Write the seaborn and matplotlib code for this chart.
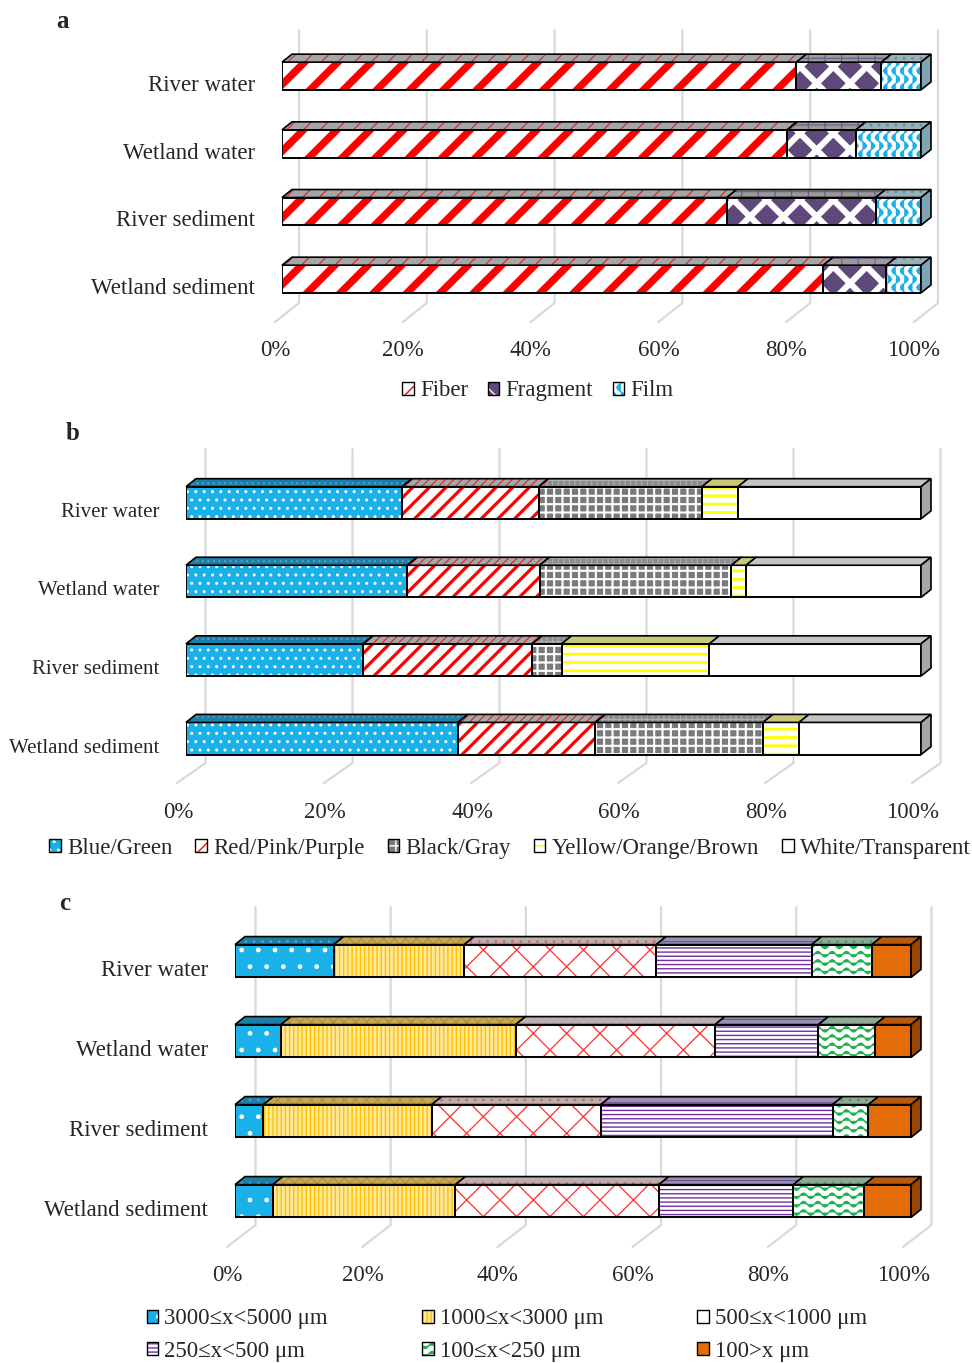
import warnings
import numpy as np
import pandas as pd
import seaborn as sns
import matplotlib.pyplot as plt
import matplotlib.transforms as mtransforms
from matplotlib import hatch as mhatch
from matplotlib.path import Path
from matplotlib.patches import Patch, Polygon
from matplotlib.legend_handler import HandlerTuple

warnings.filterwarnings("ignore")

# ---------------- data (percent) ----------------
sites = ["River water", "Wetland water", "River sediment", "Wetland sediment"]

shape_names = ["Fiber", "Fragment", "Film"]
fiber = [80.5, 79.1, 69.6, 84.7]
fragment = [13.3, 10.7, 23.3, 9.9]
film = [6.2, 10.2, 7.1, 5.4]

color_names = ["Blue/Green", "Red/Pink/Purple", "Black/Gray",
               "Yellow/Orange/Brown", "White/Transparent"]
blue_green = [29.4, 30.1, 24.1, 37.0]
red_pink = [18.6, 18.0, 23.0, 18.7]
black_gray = [22.2, 26.1, 4.0, 22.8]
yellow_brown = [4.9, 2.0, 20.1, 4.9]
white_transp = [24.9, 23.8, 28.8, 16.6]

size_names = ["3000\u2264x<5000 \u03bcm", "1000\u2264x<3000 \u03bcm", "500\u2264x<1000 \u03bcm",
              "250\u2264x<500 \u03bcm", "100\u2264x<250 \u03bcm", "100>x \u03bcm"]
s3000 = [14.6, 6.8, 4.2, 5.6]
s1000 = [19.3, 34.7, 24.9, 27.0]
s500 = [28.4, 29.5, 25.0, 30.1]
s250 = [23.0, 15.3, 34.3, 19.9]
s100 = [8.9, 8.4, 5.3, 10.5]
s0 = [5.8, 5.3, 6.3, 6.9]

pct_ticks = [0, 20, 40, 60, 80, 100]
pct_labels = ["0%", "20%", "40%", "60%", "80%", "100%"]


# wavy hatch patterns ('~' horizontal waves, 'z' vertical waves)
class WaveHatch(mhatch.HatchPatternBase):
    char, vertical, periods, amp = "~", False, 7, 0.028

    def __init__(self, hatch, density):
        self.num_lines = int(hatch.count(self.char) * density)
        self.npts = self.periods * 8 + 1
        self.num_vertices = self.num_lines * self.npts

    def set_vertices_and_codes(self, vertices, codes):
        steps, stepsize = np.linspace(0.0, 1.0, self.num_lines, False, retstep=True)
        steps += stepsize / 2.0
        t = np.linspace(0.0, 1.0, self.npts)
        wave = self.amp * np.sin(2 * np.pi * self.periods * t)
        a, b = (1, 0) if self.vertical else (0, 1)
        for k, s in enumerate(steps):
            sl = slice(k * self.npts, (k + 1) * self.npts)
            vertices[sl, a] = t
            vertices[sl, b] = s + wave
            codes[sl] = Path.LINETO
            codes[k * self.npts] = Path.MOVETO


class VWaveHatch(WaveHatch):
    char, vertical, periods, amp = "z", True, 6, 0.04


mhatch._hatch_types.extend([WaveHatch, VWaveHatch])

# ---------------- styles ----------------
# front: face, hatch, hatch colour, hatch lw ; top: face, hatch, hatch colour
style_a = [("white", "/", "#ff0000", 5.3, "#a6a6a6", "//", "#e02020"),
           ("#5f497a", "x", "white", 4.4, "#9a9a9a", "+", "#6a5a8a"),
           ("white", "zz", "#1ab0e8", 1.0, "#9ab0b8", "..", "#5a8fa8")]
side_a = "#7fa4b4"
style_b = [("#1ab0e8", "..", "white", 1.0, "#1b7fa8", "...", "#5aa0c0"),
           ("white", "//", "#ff0000", 2.3, "#a6a6a6", "////", "#e02020"),
           ("#7a7a7a", "++", "white", 1.5, "#8c8c8c", "+++", "#b0b0b0"),
           ("white", "--", "#ffff00", 2.0, "#c8c878", "", "#c8c878"),
           ("white", "", "white", 1.0, "#c4c4c4", "", "#c4c4c4")]
side_b = "#a6a6a6"
style_c = [("#1ab0e8", ".", "white", 1.0, "#1b7fa8", "..", "#5aa0c0"),
           ("#ffe89a", "||||", "#ffc000", 1.0, "#c8a850", "xxx", "#b09040"),
           ("white", "x", "#ff4040", 1.0, "#b8b0b0", "..", "#e06060"),
           ("white", "----", "#7030a0", 1.0, "#9a90b0", "---", "#7050a0"),
           ("white", "~~", "#20b050", 1.0, "#90a898", "..", "#40a060"),
           ("#e36c09", "", "#e36c09", 1.0, "#b85a0a", "", "#b85a0a")]
side_c = "#9c4500"

sns.set_style("white")
plt.rcParams["font.family"] = ["Liberation Serif", "DejaVu Serif"]

W, H = 972, 1363
fig = plt.figure(figsize=(W / 100, H / 100), dpi=100)

DEPTH = (10, 8)
BAR_H = 0.41


def px_axes(x0, x1, ytop, ybot):
    return fig.add_axes([x0 / W, 1 - ybot / H, (x1 - x0) / W, (ybot - ytop) / H])


def to_disp(ypx):
    return H - ypx


def panel(ax, series, styles, side_color, fs_cat, grid, tick_pad, tick_shift):
    vals = np.array(series)  # (n_series, n_sites)
    cum = np.cumsum(vals, axis=0)
    starts = cum - vals
    # seaborn stacked bars: largest cumulative first
    for i in range(len(series) - 1, -1, -1):
        face, hatch, hcol, hlw = styles[i][:4]
        df = pd.DataFrame({"site": sites, "value": cum[i]})
        with plt.rc_context({"hatch.linewidth": hlw}):
            sns.barplot(data=df, x="value", y="site", order=sites, orient="h",
                        color=face, saturation=1, hatch=hatch, edgecolor=hcol,
                        linewidth=0, width=BAR_H, ax=ax, zorder=2)
    ax.set_xlim(0, 100)
    ax.set_ylim(3.5, -0.5)
    ypos = np.arange(len(sites))
    # segment outlines
    for i in range(len(series)):
        ax.barh(ypos, vals[i], left=starts[i], height=BAR_H, fill=False,
                edgecolor="black", linewidth=1.4, zorder=4)

    # 3D top faces and end face
    dx, dy = DEPTH
    T = ax.transData
    ident = mtransforms.IdentityTransform()
    for i in range(len(series)):
        tface, thatch, thcol = styles[i][4:]
        for j in range(len(sites)):
            l = T.transform((starts[i][j], j - BAR_H / 2))
            r = T.transform((cum[i][j], j - BAR_H / 2))
            poly = [l, r, r + [dx, dy], l + [dx, dy]]
            with plt.rc_context({"hatch.linewidth": 0.8}):
                ax.add_patch(Polygon(poly, closed=True, facecolor=tface, hatch=thatch,
                                     edgecolor=thcol, linewidth=0, transform=ident,
                                     clip_on=False, zorder=4))
            ax.add_patch(Polygon(poly, closed=True, fill=False, edgecolor="black",
                                 linewidth=1.2, transform=ident, clip_on=False, zorder=4))
    for j in range(len(sites)):
        rt = T.transform((cum[-1][j], j - BAR_H / 2))
        rb = T.transform((cum[-1][j], j + BAR_H / 2))
        poly = [rt, rt + [dx, dy], rb + [dx, dy], rb]
        ax.add_patch(Polygon(poly, closed=True, facecolor=side_color, edgecolor="black",
                             linewidth=1.2, transform=ident, clip_on=False, zorder=4))

    # back-wall gridlines with floor slant
    gback, gtop, gbend, gfront, gbot = grid
    for t in pct_ticks:
        xp = T.transform((t, 0))[0]
        ax.add_line(plt.Line2D([xp + gback, xp + gback, xp - gfront],
                               [to_disp(gtop), to_disp(gbend), to_disp(gbot)],
                               color="#d9d9d9", linewidth=1.6, transform=ident,
                               clip_on=False, zorder=0.5))

    for s in ax.spines.values():
        s.set_visible(False)
    ax.patch.set_visible(False)
    ax.set_xlabel("")
    ax.set_ylabel("")
    ax.set_xticks(pct_ticks, pct_labels)
    ax.set_yticks(ypos, sites)
    ax.tick_params(axis="x", length=0, pad=tick_pad, labelsize=16.5)
    ax.tick_params(axis="y", length=0, pad=19.4, labelsize=fs_cat)
    for lab in ax.get_xticklabels():
        lab.set_transform(lab.get_transform() + mtransforms.Affine2D().translate(-tick_shift, 0))
    for lab in ax.get_yticklabels():
        lab.set_transform(lab.get_transform() + mtransforms.Affine2D().translate(0, -7))


def handles_for(styles):
    hs = []
    for st in styles:
        face, hatch, hcol, hlw = st[:4]
        with plt.rc_context({"hatch.linewidth": min(hlw, 1.5)}):
            p = Patch(facecolor=face, hatch=hatch, edgecolor=hcol, linewidth=0)
        hs.append((p, Patch(fill=False, edgecolor="black", linewidth=1.0)))
    return hs


leg_kw = dict(frameon=False, fontsize=16.5, handlelength=0.5, handleheight=0.5,
              handletextpad=0.28, handler_map={tuple: HandlerTuple(ndivide=1)},
              borderaxespad=0, borderpad=0)

# ---------------- panel a ----------------
ax_a = px_axes(282, 921, 42.2, 312.9)
panel(ax_a, [fiber, fragment, film], style_a, side_a, 16.5,
      (17, 30, 303, 7, 322), 19.2, 7)
fig.legend(handles_for(style_a), shape_names, loc="center", ncol=3,
           bbox_to_anchor=(538 / W, 1 - 391 / H), columnspacing=0.85, **leg_kw)

# ---------------- panel b ----------------
ax_b = px_axes(186, 921, 463.5, 777.8)
panel(ax_b, [blue_green, red_pink, black_gray, yellow_brown, white_transp],
      style_b, side_b, 15, (19.5, 449, 763, 9, 783), 17.3, 8)
fig.legend(handles_for(style_b), color_names, loc="center", ncol=5,
           bbox_to_anchor=(510 / W, 1 - 848 / H), columnspacing=1.0, **leg_kw)

# ---------------- panel c ----------------
ax_c = px_axes(235, 911, 921, 1241)
panel(ax_c, [s3000, s1000, s500, s250, s100, s0], style_c, side_c, 16.5,
      (20.5, 907, 1225, 8, 1247), 17.3, 7.5)
hc = handles_for(style_c)
order = [0, 3, 1, 4, 2, 5]
fig.legend([hc[k] for k in order], [size_names[k] for k in order], loc="center",
           ncol=3, bbox_to_anchor=(507 / W, 1 - 1335 / H), columnspacing=4.1,
           labelspacing=0.5, **leg_kw)

# panel letters
for letter, x, y in [("a", 62, 22), ("b", 73, 434), ("c", 65, 903)]:
    fig.text(x / W, 1 - y / H, letter, fontsize=18, fontweight="bold",
             ha="center", va="center")

fig.savefig("out.png", dpi=100)
